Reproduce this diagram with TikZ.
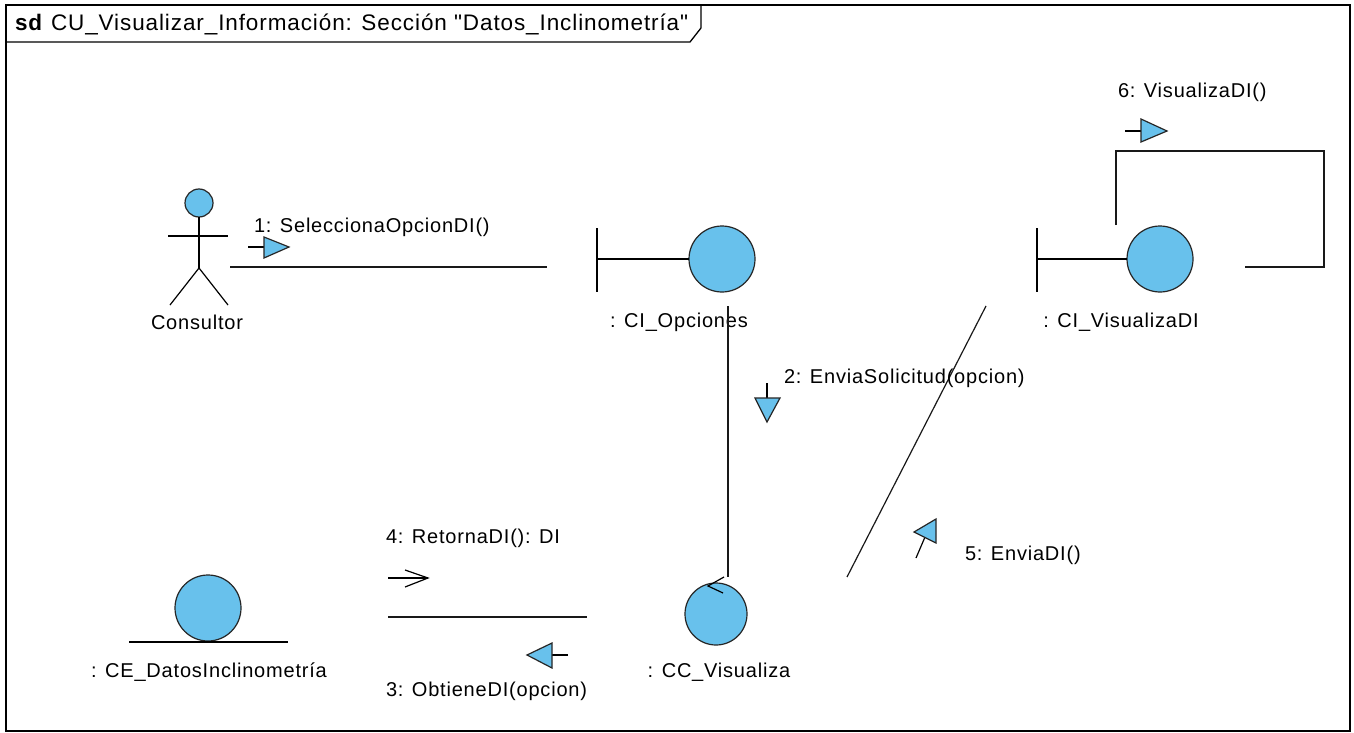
\documentclass[tikz,border=0pt]{standalone}
\usepackage{fontspec}
\setmainfont{Liberation Sans}
\newfontfamily\lblfont{Liberation Sans}[LetterSpace=4]
\begin{document}
\begin{tikzpicture}[x=1pt,y=-1pt,
  line width=1.2pt,
  every node/.style={inner sep=0pt,outer sep=0pt},
  lbl/.style={font=\lblfont\fontsize{20}{23}\selectfont},
  obj/.style={circle,draw=black!85,line width=1.2pt,fill=umlblue,minimum size=66pt},
  msgtri/.style={draw=black!85,line width=1.2pt,fill=umlblue,line join=miter},
  link/.style={draw=black!90,line width=1.2pt}]
\definecolor{umlblue}{RGB}{104,193,236}
\useasboundingbox (0,0) rectangle (1354,733);
\fill[white] (0,0) rectangle (1354,733);

% frame and its name tab
\draw[line width=1.5pt] (6,5) rectangle (1350,731);
\draw[line width=2pt] (1350,5) -- (1350,731);
\draw[line width=1.3pt] (6,42) -- (690,42) -- (701,28) -- (701,5);
\node[lbl,font=\lblfont\fontsize{22.5}{25}\selectfont,anchor=west] (title) at (15,24) {\textbf{sd}\hspace{8pt}CU\_Visualizar\_Información: Sección \char"22 Datos\_Inclinometría\char"22};

% actor Consultor
\node[circle,draw=black!85,fill=umlblue,minimum size=28pt] (head) at (199,203) {};
\draw (head.south) -- (199,268) coordinate (hip);
\draw (168,236) -- (228,236);
\draw (170,305) -- (hip) -- (228,305);
\node[lbl] (actlbl) at (197,322) {Consultor};

% boundary : CI_Opciones
\node[obj] (opc) at (722,259) {};
\draw (597,228) -- (597,292);
\draw (597,259) -- (opc.west);
\node[lbl] (opclbl) at (679,322) {: CI\_Opciones};

% boundary : CI_VisualizaDI
\node[obj] (vis) at (1160,259) {};
\draw (1037,228) -- (1037,292);
\draw (1037,259) -- (vis.west);
\node[lbl] (vislbl) at (1121,322) {: CI\_VisualizaDI};

% entity : CE_DatosInclinometria
\node[obj] (ent) at (208,608) {};
\draw (129,642) -- (288,642);
\node[lbl] (entlbl) at (209,672) {: CE\_DatosInclinometría};

% control : CC_Visualiza
\node[obj,minimum size=62pt] (ctl) at (716,614) {};
\draw (724,577) -- (708,586) -- (723,593);
\node[lbl] (ctllbl) at (719,672) {: CC\_Visualiza};

% link end points
\coordinate (l1a) at (230,267);  \coordinate (l1b) at (547,267);
\coordinate (l2a) at (728,306);  \coordinate (l2b) at (728,577);
\coordinate (l5a) at (986,306);  \coordinate (l5b) at (847,577);
\coordinate (l3a) at (388,617);  \coordinate (l3b) at (587,617);
\coordinate (s1) at (1116,225); \coordinate (s2) at (1116,151);
\coordinate (s3) at (1324,151); \coordinate (s4) at (1324,267);
\coordinate (s5) at (1245,267);

\draw[link] (l1a) -- (l1b);
\draw[link] (l2a) -- (l2b);
\draw[link] (l5a) -- (l5b);
\draw[link] (l3a) -- (l3b);
\draw[link] (s1) -- (s2) -- (s3) -- (s4) -- (s5);

% message 1
\draw (248,247) -- (264,247);
\draw[msgtri] (264,237) -- (289,247) -- (264,258) -- cycle;
\node[lbl,anchor=west] (m1) at (254,227) {1: SeleccionaOpcionDI()};

% message 2
\draw (767,383) -- (767,398);
\draw[msgtri] (755,398) -- (780,398) -- (767,422) -- cycle;
\node[lbl,anchor=west] (m2) at (784,378) {2: EnviaSolicitud(opcion)};

% message 3
\draw (568,655) -- (552,655);
\draw[msgtri] (552,643) -- (527,655) -- (552,668) -- cycle;
\node[lbl,anchor=west] (m3) at (386,691) {3: ObtieneDI(opcion)};

% message 4 (return)
\draw (388,578) -- (428,578);
\draw (405,570) -- (428,578) -- (405,587);
\node[lbl,anchor=west] (m4) at (386,538) {4: RetornaDI(): DI};

% message 5
\draw (916,558) -- (925,537);
\draw[msgtri] (936,519) -- (914,532) -- (936,543) -- cycle;
\node[lbl,anchor=west] (m5) at (965,555) {5: EnviaDI()};

% message 6
\draw (1125,131) -- (1141,131);
\draw[msgtri] (1141,119) -- (1167,131) -- (1141,142) -- cycle;
\node[lbl,anchor=west] (m6) at (1118,92) {6: VisualizaDI()};
\end{tikzpicture}
\end{document}
